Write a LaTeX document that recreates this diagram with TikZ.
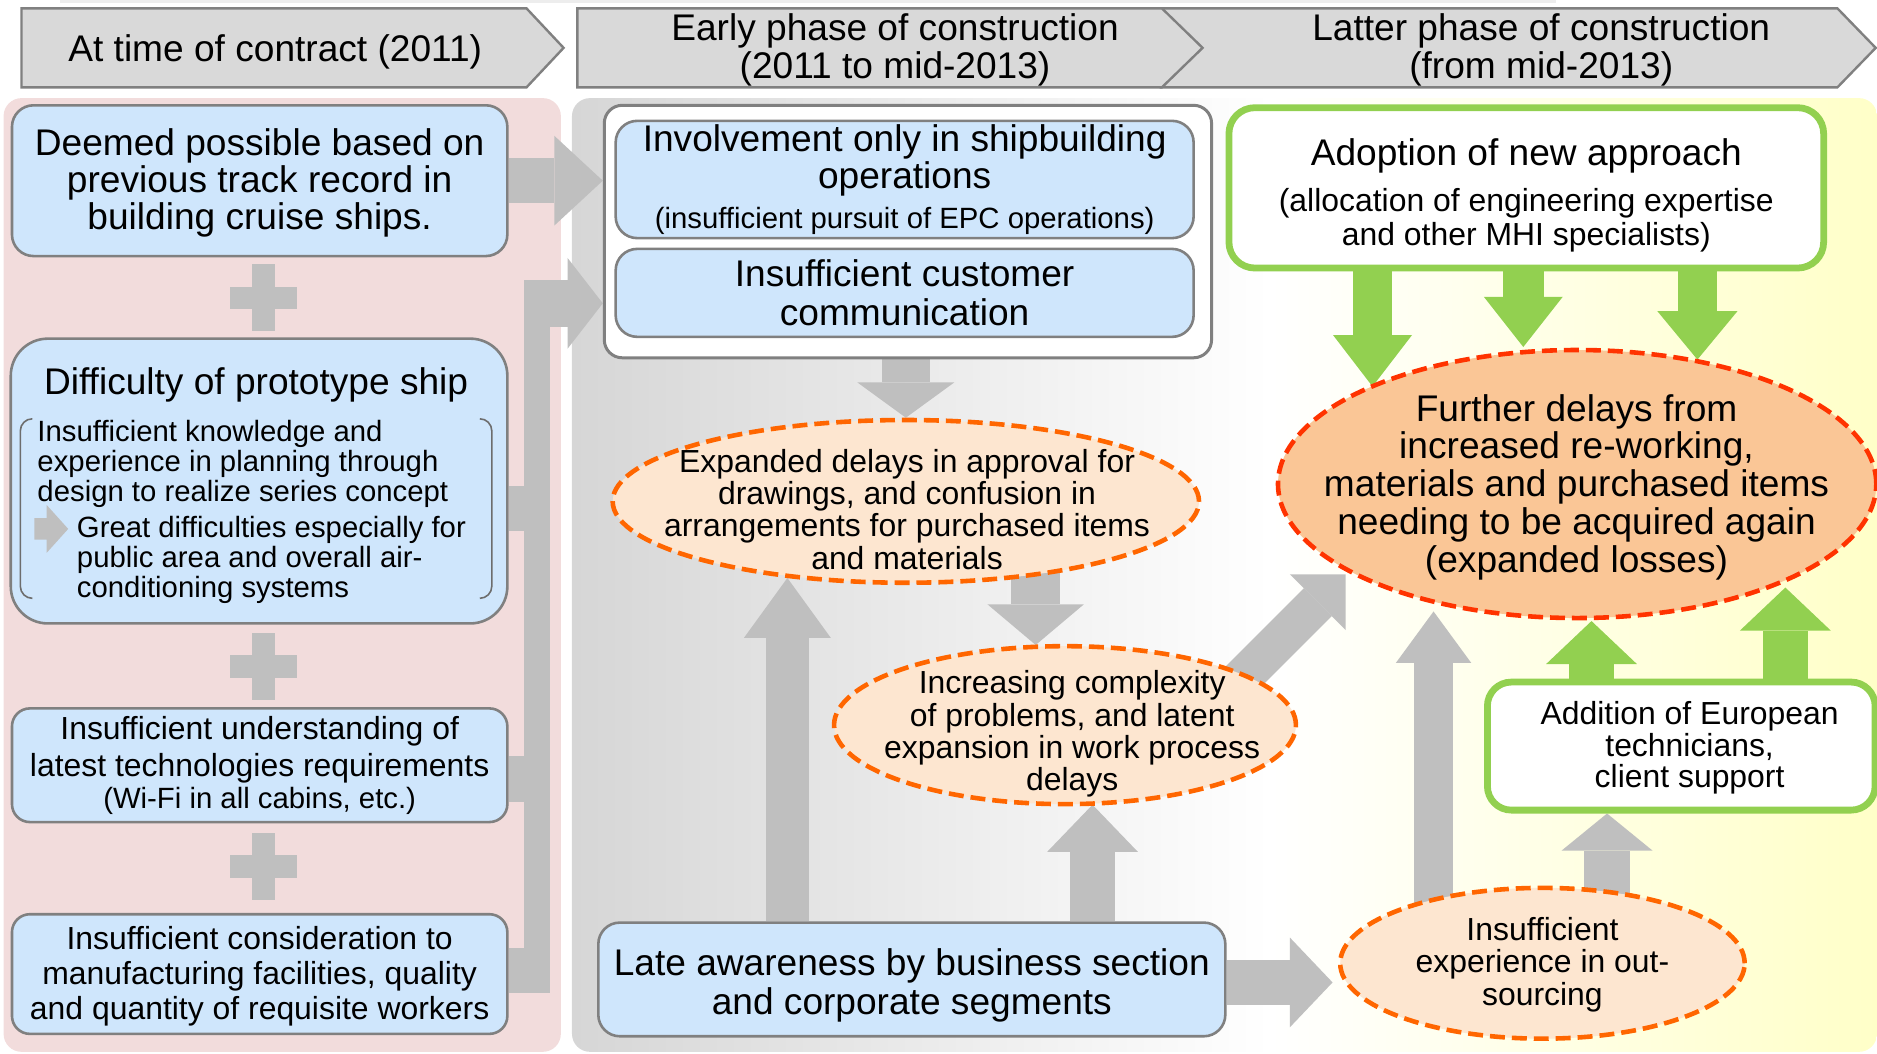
\documentclass[tikz,border=0pt]{standalone}
\usepackage{fontspec}
\setmainfont{Liberation Sans}
\usetikzlibrary{arrows.meta,shapes.geometric}
\pgfdeclarelayer{bg}
\pgfdeclarelayer{arr}
\pgfsetlayers{bg,arr,main}
\definecolor{gB}{RGB}{191,191,191}
\definecolor{boxblue}{RGB}{207,230,252}
\definecolor{bord}{RGB}{128,128,128}
\definecolor{pinkbg}{RGB}{242,220,220}
\definecolor{chev}{RGB}{217,217,217}
\definecolor{grn}{RGB}{146,208,80}
\definecolor{peach}{RGB}{253,230,208}
\definecolor{orng}{RGB}{255,102,0}
\definecolor{oraf}{RGB}{250,198,150}
\definecolor{redd}{RGB}{255,51,0}
\definecolor{ylw}{RGB}{255,255,200}
\definecolor{pgrey}{RGB}{214,214,214}
\newcommand\fzB{\fontsize{18.6pt}{18.6pt}\selectfont}
\newcommand\fzS{\fontsize{14.7pt}{15pt}\selectfont}
\begin{document}
\begin{tikzpicture}[x=0.6pt,y=-0.6pt,
  bluebox/.style={draw=bord, line width=1.3pt, fill=boxblue, inner sep=0pt, align=center},
  greenbox/.style={draw=grn, line width=3.4pt, fill=white, inner sep=0pt, align=center},
  dell/.style={ellipse, draw=orng, line width=2.3pt, dash pattern=on 7.5pt off 3.5pt, fill=peach, inner sep=0pt},
  ttext/.style={inner sep=0pt, align=center},
  ga/.style n args={3}{draw=gB, line width=#1, line cap=butt, -{Triangle[length=#2, width=#3, line width=0pt]}},
  gra/.style n args={3}{draw=grn, line width=#1, line cap=butt, -{Triangle[length=#2, width=#3, line width=0pt]}},
  chevron/.style={fill=chev, draw=bord, line width=1.2pt, line join=miter},
  gline/.style={draw=gB, line width=22.8pt, line cap=butt}
]
\useasboundingbox (0,0) rectangle (1568.6,880);

% ---------- background ----------
\begin{pgfonlayer}{bg}
  \fill[black!7] (50,0) rectangle (1300,2.5);
  \fill[pinkbg, rounded corners=9pt] (3,82) rectangle (468.7,879);
  \begin{scope}
    \clip[rounded corners=9pt] (478,82) rectangle (1568.6,879);
    \shade[left color=pgrey, right color=white] (478,82) rectangle (1062,879);
    \shade[left color=white, right color=ylw] (1061,82) rectangle (1568.6,879);
  \end{scope}
  \draw[chevron] (970,7) -- (1535.5,7) -- (1567.5,40) -- (1535.5,73) -- (970,73) -- cycle;
  \draw[chevron] (482.5,7) -- (971,7) -- (1005,40) -- (971,73) -- (482.5,73) -- cycle;
  \draw[chevron] (18,7) -- (440,7) -- (471,40) -- (440,73) -- (18,73) -- cycle;
\end{pgfonlayer}

% ---------- header texts ----------
\node[ttext, font=\fzB] (h1) at (230,43) {At time of contract (2011)};
\node[ttext, font=\fontsize{18.6pt}{19.2pt}\selectfont] (h2) at (748,42) {Early phase of construction\\(2011 to mid-2013)};
\node[ttext, font=\fontsize{18.6pt}{19.2pt}\selectfont] (h3) at (1288,42) {Latter phase of construction\\(from mid-2013)};

% ---------- left column ----------
\node[bluebox, rounded corners=10.8pt, minimum width=248.4pt, minimum height=75.6pt] (box1) at (217,151) {};
\node[ttext, font=\fzB] (box1t) at (217,153) {Deemed possible based on\\previous track record in\\building cruise ships.};
\node[bluebox, rounded corners=18.6pt, minimum width=249pt, minimum height=142.8pt] (box2) at (216.5,402) {};
\node[ttext, font=\fzB, anchor=base] (box2t) at (214,330) {Difficulty of prototype ship};
\draw[bord!85!black, line width=0.8pt, rounded corners=6pt] (27,350) -- (17,350) -- (17,500) -- (27,500);
\draw[bord!85!black, line width=0.8pt, rounded corners=6pt] (401,350) -- (411,350) -- (411,500) -- (401,500);
\node[inner sep=0pt, align=left, anchor=base west, font=\fontsize{14.7pt}{15pt}\selectfont] (brk1) at (31,419)
  {Insufficient knowledge and\\experience in planning through\\design to realize series concept};
\fill[gB] (28.7,433) -- (39,433) -- (39,422) -- (57,442) -- (39,462) -- (39,451) -- (28.7,451) -- cycle;
\node[inner sep=0pt, align=left, anchor=base west, font=\fontsize{14.7pt}{15pt}\selectfont] (brk2) at (64,499)
  {Great difficulties especially for\\public area and overall air-\\conditioning systems};
\node[bluebox, rounded corners=9pt, minimum width=248.4pt, minimum height=57pt, font=\fontsize{16pt}{18.6pt}\selectfont] (box3) at (217,639.5)
  {Insufficient understanding of\\latest technologies requirements\\[-2.4pt]{\fzS (Wi-Fi in all cabins, etc.)}};
\node[bluebox, rounded corners=9pt, minimum width=248.4pt, minimum height=60pt] (box4) at (217,814) {};
\node[ttext, font=\fontsize{16pt}{17.4pt}\selectfont] (box4t) at (217,816)
  {Insufficient consideration to\\manufacturing facilities, quality\\and quantity of requisite workers};

% plus signs
\foreach \py in {249,557,724} {
  \fill[gB] (210.5,\py-28) rectangle (229.5,\py+28);
  \fill[gB] (192,\py-9.5) rectangle (248,\py+9.5);
}

% ---------- middle column ----------
\node[draw=bord, line width=1.5pt, fill=white, rounded corners=9pt, minimum width=304.5pt, minimum height=126.6pt, inner sep=0pt] (outer) at (758.75,193.5) {};
\node[bluebox, rounded corners=10.8pt, minimum width=289.8pt, minimum height=58.8pt, font=\fzB] (boxA) at (756,150)
  {Involvement only in shipbuilding\\operations\\[1.2pt]{\fzS (insufficient pursuit of EPC operations)}};
\node[bluebox, rounded corners=10.8pt, minimum width=289.8pt, minimum height=44.1pt, font=\fontsize{18.6pt}{19.8pt}\selectfont] (boxB) at (756,244.75)
  {Insufficient customer\\communication};
\node[dell, minimum width=294pt, minimum height=81.6pt] (e1) at (757,419) {};
\node[ttext, font=\fontsize{16pt}{16.2pt}\selectfont] (e1t) at (758,425.5) {Expanded delays in approval for\\drawings, and confusion in\\arrangements for purchased items\\and materials};
\node[dell, minimum width=231.6pt, minimum height=79.2pt] (e2) at (890,606) {};
\node[ttext, font=\fontsize{16pt}{16.2pt}\selectfont] (e2t) at (896,613.5) {Increasing complexity\\of problems, and latent\\expansion in work process\\delays};
\node[bluebox, rounded corners=10.8pt, minimum width=314.4pt, minimum height=57pt] (late) at (762,818.5) {};
\node[ttext, font=\fontsize{18.6pt}{19.8pt}\selectfont] (latet) at (762,823.5)
  {Late awareness by business section\\and corporate segments};

% ---------- right column ----------
\node[greenbox, rounded corners=13pt, minimum width=298.2pt, minimum height=80.4pt] (adopt) at (1275.5,157) {};
\node[ttext, font=\fontsize{16pt}{17.4pt}\selectfont] (adoptt) at (1275.5,163.5)
  {{\fzB Adoption of new approach}\\[5.4pt](allocation of engineering expertise\\and other MHI specialists)};
\node[dell, draw=redd, fill=oraf, minimum width=300pt, minimum height=134.4pt] (e3) at (1318,404.5) {};
\node[ttext, font=\fontsize{18.6pt}{18.9pt}\selectfont] (e3t) at (1317.5,407) {Further delays from\\increased re-working,\\materials and purchased items\\needing to be acquired again\\(expanded losses)};
\node[greenbox, rounded corners=12pt, minimum width=194.4pt, minimum height=64.2pt] (addit) at (1405,623.5) {};
\node[ttext, font=\fontsize{16pt}{15.9pt}\selectfont] (additt) at (1412,625)
  {Addition of European\\technicians,\\client support};
\node[dell, minimum width=202.8pt, minimum height=75.6pt] (e4) at (1289,805) {};
\node[ttext, font=\fontsize{16pt}{16.2pt}\selectfont] (e4t) at (1289,806) {Insufficient\\experience in out-\\sourcing};

% ---------- connectors ----------
\coordinate (s2) at (460,425);
\coordinate (s3) at (460,651);
\coordinate (s4) at (460,811);
\coordinate (barT) at (449,234);
\coordinate (barB) at (449,830);
\coordinate (topL) at (438,253.5);
\coordinate (t4) at (865.5,539);
\coordinate (t5) at (658,483);
\coordinate (t6) at (913,672.5);
\coordinate (t7) at (1113.6,821);
\coordinate (s8) at (1010,594.5);
\coordinate (t8) at (1124.5,480);
\coordinate (t9) at (1198,511);
\coordinate (t10) at (1343,700);
\coordinate (t11) at (1330,519);
\coordinate (t12) at (1492,491);
\coordinate (t13) at (1147,323);
\coordinate (t14) at (1273,290);
\coordinate (t15) at (1418.5,300.5);

\begin{pgfonlayer}{arr}
  % left column
  \draw[ga={22.8pt}{24.3pt}{45pt}] (box1.east) -- (box1.east -| outer.west);
  \draw[draw=gB, line width=13.2pt, line cap=butt] (barT) -- (barB);
  \draw[gline] (box2.east |- s2) -- (s2);
  \draw[gline] (box3.east |- s3) -- (s3);
  \draw[gline] (box4.east |- s4) -- (s4);
  \draw[ga={23.4pt}{17.7pt}{45.6pt}] (topL) -- (topL -| outer.west);
  % middle column
  \draw[ga={24pt}{17.7pt}{48.6pt}] (outer.south -| e1.north) -- (e1.north);
  \draw[ga={24.3pt}{20.4pt}{48.4pt}] (e1.center -| t4) -- (t4);
  \draw[ga={21.6pt}{30pt}{43.5pt}] (late.north -| t5) -- (t5);
  \draw[ga={22.5pt}{23.7pt}{45.6pt}] (late.north -| t6) -- (t6);
  \draw[ga={22.8pt}{21.4pt}{45pt}] (late.east |- t7) -- (t7);
  \draw[ga={19.8pt}{19.7pt}{39.5pt}] (s8) -- (t8);
  % right column
  \draw[ga={19.2pt}{25.8pt}{37.8pt}] (e4.center -| t9) -- (t9);
  \draw[ga={22.8pt}{18.6pt}{45.6pt}] (e4.center -| t10) -- (addit.south -| t10);
  \draw[gra={22.2pt}{21.6pt}{45.6pt}] (addit.north -| t11) -- (t11);
  \draw[gra={22.8pt}{21.6pt}{45.6pt}] (addit.north -| t12) -- (t12);
  \draw[gra={19.8pt}{25.8pt}{39.6pt}] (adopt.south -| t13) -- (t13);
  \draw[gra={20.4pt}{25.2pt}{39.6pt}] (adopt.south -| t14) -- (t14);
  \draw[gra={19.8pt}{24.3pt}{40.2pt}] (adopt.south -| t15) -- (t15);
\end{pgfonlayer}
\end{tikzpicture}
\end{document}
